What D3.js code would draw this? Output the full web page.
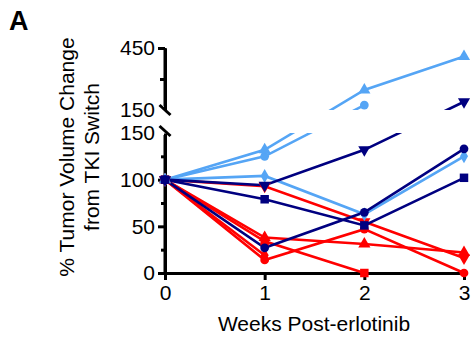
<!DOCTYPE html>
<html>
<head>
<meta charset="utf-8">
<script src="https://cdn.jsdelivr.net/npm/d3@7"></script>
<style>
  body { margin: 0; background: #fff; }
  svg { display: block; font-family: "Liberation Sans", Arial, sans-serif; }
</style>
</head>
<body>
<div id="chart"></div>
<script>
// weeks post-erlotinib
const weeks = [0, 1, 2, 3];

// % tumor volume change, one array per tumor (missing weeks simply end the array)
const lightBlueTriangle = [100, 132, 247, 409];
const lightBlueCircle = [100, 125, 174];
const lightBlueDiamond = [100, 104, 63, 125];
const navyTriangleDown = [100, 94, 132, 190];
const navyCircle = [100, 27, 65, 133];
const navySquare = [100, 79, 51, 102];
const redTriangleDown = [100, 93, 55, 16];
const redTriangle = [100, 38, 31, 22];
const redSquare = [100, 34, 0];
const redCircle = [100, 14, 47, 0];
const redDiamond = [100, 19];

const lowerTicks = [0, 50, 100, 150];
const lowerMinorTicks = [25, 75, 125];
const upperTicks = [150, 450];
const upperMinorTicks = [300];

const RED = '#ff0000', LIGHT = '#55a5f5', NAVY = '#000080';

// draw order: red first, navy on top
const series = [
  { values: redDiamond, color: RED, shape: 'diamond' },
  { values: redCircle, color: RED, shape: 'circle' },
  { values: redSquare, color: RED, shape: 'square' },
  { values: redTriangle, color: RED, shape: 'triangle' },
  { values: redTriangleDown, color: RED, shape: 'triangleDown' },
  { values: lightBlueDiamond, color: LIGHT, shape: 'diamond' },
  { values: lightBlueCircle, color: LIGHT, shape: 'circle' },
  { values: lightBlueTriangle, color: LIGHT, shape: 'triangle' },
  { values: navyTriangleDown, color: NAVY, shape: 'triangleDown' },
  { values: navyCircle, color: NAVY, shape: 'circle' },
  { values: navySquare, color: NAVY, shape: 'square' },
];

const width = 471, height = 338;
const fontSize = 21;

const x = d3.scaleLinear().domain([0, 3]).range([165, 464]);
const yLow = d3.scaleLinear().domain([0, 150]).range([273, 133]);
const yHigh = d3.scaleLinear().domain([150, 450]).range([110, 48]);
const y = v => (v <= 150 ? yLow(v) : yHigh(v));

const svg = d3.select('#chart').append('svg')
  .attr('width', width)
  .attr('height', height);

// clip so the lines disappear inside the axis break
svg.append('clipPath').attr('id', 'panels')
  .selectAll('rect')
  .data([[0, yHigh(150)], [yLow(150), height]])
  .enter().append('rect')
  .attr('x', 0).attr('width', width)
  .attr('y', d => d[0]).attr('height', d => d[1] - d[0]);

function styleAxis(g) {
  g.selectAll('path, line').attr('stroke', '#000').attr('stroke-width', 3);
  g.selectAll('text').attr('font-size', fontSize).attr('fill', '#000')
    .attr('font-family', '"Liberation Sans", Arial, sans-serif');
}

// x axis
svg.append('g')
  .attr('transform', `translate(0,${yLow(0)})`)
  .call(d3.axisBottom(x).tickValues(weeks).tickFormat(d3.format('d'))
    .tickSize(7).tickSizeOuter(0).tickPadding(5))
  .call(styleAxis);

// lower y segment
svg.append('g')
  .attr('transform', `translate(${x(0)},0)`)
  .call(d3.axisLeft(yLow).tickValues(lowerMinorTicks).tickSize(4).tickSizeOuter(0).tickFormat(''))
  .call(styleAxis);
const lowerAxis = svg.append('g')
  .attr('transform', `translate(${x(0)},0)`)
  .call(d3.axisLeft(yLow).tickValues(lowerTicks).tickSize(7).tickSizeOuter(0).tickPadding(3))
  .call(styleAxis);
lowerAxis.selectAll('.tick').filter(d => d === 150).select('line').remove();

// upper y segment
svg.append('g')
  .attr('transform', `translate(${x(0)},0)`)
  .call(d3.axisLeft(yHigh).tickValues(upperMinorTicks).tickSize(5).tickSizeOuter(0).tickFormat(''))
  .call(styleAxis);
const upperAxis = svg.append('g')
  .attr('transform', `translate(${x(0)},0)`)
  .call(d3.axisLeft(yHigh).tickValues(upperTicks).tickSize(7).tickSizeOuter(0).tickPadding(3))
  .call(styleAxis);
upperAxis.selectAll('.tick').filter(d => d === 150).select('line').remove();
upperAxis.select('.domain').attr('d', `M0,${yHigh(150) - 4}V${yHigh(450)}`);
lowerAxis.select('.domain').attr('d', `M0,${yLow(0)}V${yLow(150) + 2}`);

// break marks
svg.append('g').selectAll('line')
  .data([yHigh(150), yLow(150) - 2])
  .enter().append('line')
  .attr('x1', x(0) - 5.5).attr('x2', x(0) + 5.5)
  .attr('y1', d => d - 5).attr('y2', d => d + 5)
  .attr('stroke', '#000').attr('stroke-width', 3);

// lines
const line = d3.line().x((d, i) => x(weeks[i])).y(d => y(d));
const linesG = svg.append('g').attr('clip-path', 'url(#panels)');
const symbolFor = {
  circle: d3.symbol(d3.symbolCircle, 60),
  square: d3.symbol(d3.symbolSquare, 72),
  triangle: d3.symbol(d3.symbolTriangle, 64),
  triangleDown: d3.symbol(d3.symbolTriangle, 64),
  diamond: d3.symbol(d3.symbolDiamond, 56),
};

series.forEach(s => {
  linesG.append('path')
    .attr('d', line(s.values))
    .attr('fill', 'none')
    .attr('stroke', s.color)
    .attr('stroke-width', 2.6);
});

series.forEach(s => {
  svg.append('g').selectAll('path')
    .data(s.values)
    .enter().append('path')
    .attr('d', symbolFor[s.shape]())
    .attr('transform', (d, i) => `translate(${x(weeks[i])},${y(d)})` + (s.shape === 'triangleDown' ? ' rotate(180)' : ''))
    .attr('fill', s.color);
});

// titles
svg.append('text')
  .attr('x', 9).attr('y', 30)
  .attr('font-size', 27).attr('font-weight', 'bold')
  .text('A');

const yTitle = svg.append('text')
  .attr('transform', 'translate(74,157) rotate(-90)')
  .attr('text-anchor', 'middle')
  .attr('font-size', fontSize);
yTitle.append('tspan').attr('x', 0).attr('y', 0).text('% Tumor Volume Change');
yTitle.append('tspan').attr('x', 0).attr('y', 25).text('from TKI Switch');

svg.append('text')
  .attr('x', 314).attr('y', 331)
  .attr('text-anchor', 'middle')
  .attr('font-size', fontSize)
  .text('Weeks Post-erlotinib');
</script>
</body>
</html>
